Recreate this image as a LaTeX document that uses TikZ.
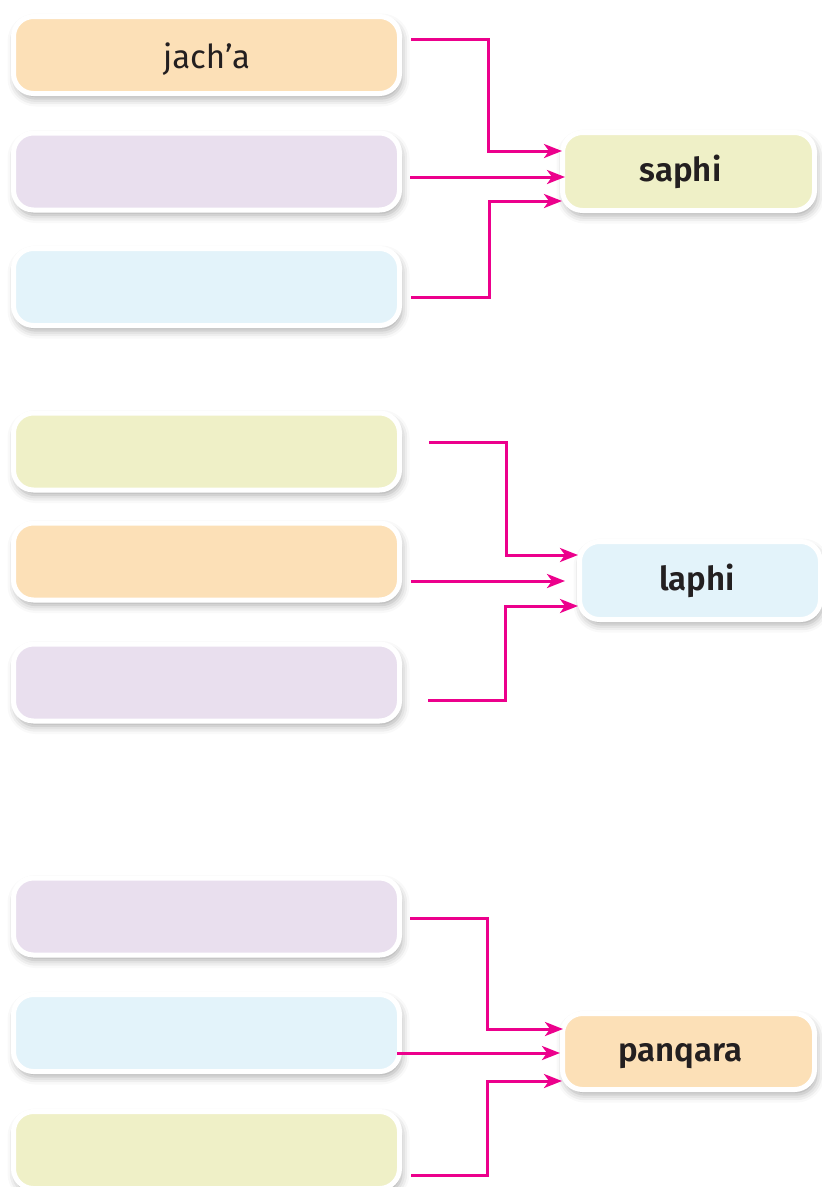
\documentclass[tikz,border=0pt]{standalone}
\usepackage{fontspec}
\setmainfont{Fira Sans}[BoldFont={Fira Sans SemiBold}]
\usetikzlibrary{arrows.meta,calc,shadows.blur}
\definecolor{peach}{HTML}{FCE0B7}
\definecolor{lav}{HTML}{E9DFEE}
\definecolor{sky}{HTML}{E3F3FA}
\definecolor{lime}{HTML}{EFF0C7}
\definecolor{pink}{HTML}{EC008C}
\definecolor{ink}{HTML}{231F20}
\tikzset{
  box/.style={draw=white, line width=5pt, rounded corners=20pt, inner sep=0pt,
    text=ink, font=\fontsize{33}{38}\selectfont,
    blur shadow={shadow xshift=2pt, shadow yshift=-5pt, shadow blur radius=8pt, shadow opacity=35}},
  leftbox/.style={box, minimum width=386pt, minimum height=77pt, text height=26pt, text depth=0pt},
  rightbox/.style={box, minimum height=78pt, font=\fontsize{33}{38}\selectfont\bfseries, text height=20.5pt, text depth=0pt},
  arr/.style={draw=pink, line width=3pt, -{Stealth[length=18pt,width=14pt,inset=5pt]}}
}
\begin{document}
\begin{tikzpicture}[x=1pt,y=-1pt]
\useasboundingbox (0,0) rectangle (822,1187);
% left boxes
\node[leftbox, fill=peach] (l1) at (206.5,55) {jach’a};
\node[leftbox, fill=lav]   (l2) at (206.5,171.5) {};
\node[leftbox, fill=sky]   (l3) at (206.5,287) {};
\node[leftbox, fill=lime]  (l4) at (206.5,451.5) {};
\node[leftbox, fill=peach] (l5) at (206.5,561.5) {};
\node[leftbox, fill=lav]   (l6) at (206.5,682.5) {};
\node[leftbox, fill=lav]   (l7) at (206.5,916.5) {};
\node[leftbox, fill=sky]   (l8) at (206.5,1033) {};
\node[leftbox, fill=lime]  (l9) at (206.5,1150) {};
% right boxes
\node[rightbox, fill=lime, minimum width=252pt] (saphi) at (688.5,171.5) {\kern-16pt saphi};
\node[rightbox, fill=sky, minimum width=241pt] (laphi) at (700,580.5) {\kern-6pt laphi};
\node[rightbox, fill=peach, minimum width=252pt, minimum height=76pt] (panqara) at (688.5,1051.5) {\kern-16pt panqara};
% start coordinates
\coordinate (s1) at ($(l1.east)+(9,-16)$);
\coordinate (s2) at ($(l2.east)+(8,5.5)$);
\coordinate (s3) at ($(l3.east)+(9,10)$);
\coordinate (s4) at ($(l4.east)+(27,-9.5)$);
\coordinate (s5) at ($(l5.east)+(9,19.5)$);
\coordinate (s6) at ($(l6.east)+(26,17.5)$);
\coordinate (s7) at ($(l7.east)+(8,1.5)$);
\coordinate (s8) at ($(l8.east)+(-5,20)$);
\coordinate (s9) at ($(l9.east)+(9,25)$);
% group 1
\draw[arr] (s1) -- (488,39) -- (488,151) -- ($(saphi.west)+(2,-20.5)$);
\draw[arr] (s2) -- ($(saphi.west)+(5,5.5)$);
\draw[arr] (s3) -- (489,297) -- (489,201) -- ($(saphi.west)+(2,29.5)$);
% group 2
\draw[arr] (s4) -- (506,442) -- (506,555) -- ($(laphi.west)+(1,-25.5)$);
\draw[arr] (s5) -- ($(laphi.west)+(-12,0.5)$);
\draw[arr] (s6) -- (505,700) -- (505,606) -- ($(laphi.west)+(1,25.5)$);
% group 3
\draw[arr] (s7) -- (487,918) -- (487,1029) -- ($(panqara.west)+(3,-22.5)$);
\draw[arr] (s8) -- ($(panqara.west)+(0,1.5)$);
\draw[arr] (s9) -- (487,1175) -- (487,1081) -- ($(panqara.west)+(2,29.5)$);
\end{tikzpicture}
\end{document}
